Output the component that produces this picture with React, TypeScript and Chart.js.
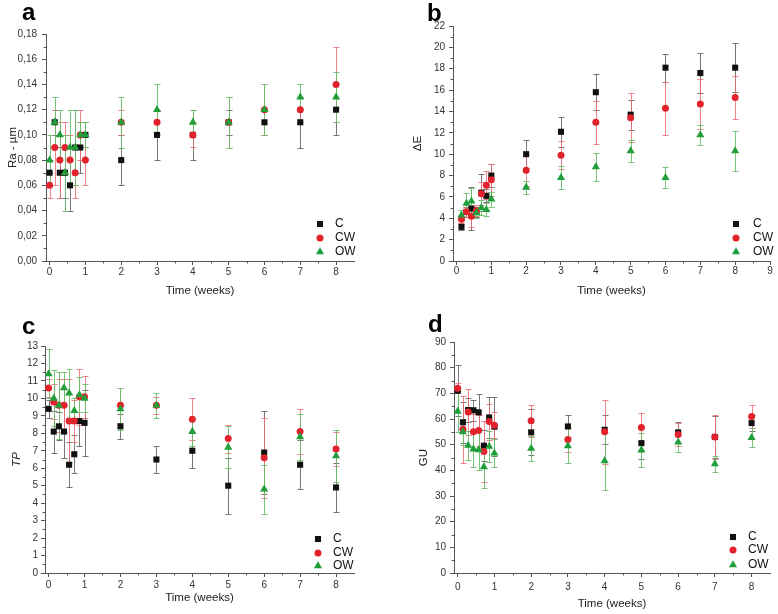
import React, { useEffect, useRef } from "react";
import { Chart, registerables } from "chart.js";
Chart.register(...registerables);

const FONT = "'Liberation Sans', Arial, Helvetica, sans-serif";

// ---- series styling ----
const seriesNames = ["C", "CW", "OW"];
const seriesColors = ["#111111", "#e2232e", "#1f9e3a"];
const errorColors = ["rgba(95,95,95,0.85)", "rgba(236,110,118,0.85)", "rgba(105,190,105,0.9)"];
const pointStyles = ["rect", "circle", "triangle"];
const pointSizes = [4.3, 3.5, 4.7];

// ---- x values (weeks) ----
const timeWeeks = [0, 0.143, 0.286, 0.429, 0.571, 0.714, 0.857, 1, 2, 3, 4, 5, 6, 7, 8];
const timeWeeksB = [0.143, 0.286, 0.429, 0.571, 0.714, 0.857, 1, 2, 3, 4, 5, 6, 7, 8];

// ---- panel a: Ra ----
const raC = [0.07, 0.11, 0.07, 0.07, 0.06, 0.09, 0.09, 0.10, 0.08, 0.10, 0.10, 0.11, 0.11, 0.11, 0.12];
const raCErr = [0.01, 0.01, 0.02, 0.02, 0.02, 0.03, 0.02, 0.01, 0.02, 0.02, 0.02, 0.01, 0.01, 0.02, 0.02];
const raCW = [0.06, 0.09, 0.08, 0.09, 0.08, 0.07, 0.10, 0.08, 0.11, 0.11, 0.10, 0.11, 0.12, 0.12, 0.14];
const raCWErr = [0.01, 0.03, 0.03, 0.02, 0.02, 0.02, 0.02, 0.02, 0.01, 0.01, 0.01, 0.02, 0.02, 0.01, 0.03];
const raOW = [0.08, 0.11, 0.10, 0.07, 0.09, 0.09, 0.10, 0.10, 0.11, 0.12, 0.11, 0.11, 0.12, 0.13, 0.13];
const raOWErr = [0.02, 0.02, 0.02, 0.03, 0.03, 0.03, 0.01, 0.01, 0.02, 0.02, 0.01, 0.02, 0.02, 0.01, 0.02];

// ---- panel b: ΔE ----
const deC = [3.2, 4.6, 4.9, 4.6, 6.4, 6.1, 8.0, 10.0, 12.1, 15.8, 13.7, 18.1, 17.6, 18.1];
const deCErr = [0.3, 0.5, 2.0, 0.5, 1.7, 0.6, 1.1, 1.3, 1.4, 1.7, 1.4, 1.3, 1.9, 2.3];
const deCW = [3.9, 4.6, 4.2, 4.7, 6.3, 7.1, 7.6, 8.5, 9.9, 13.0, 13.4, 14.3, 14.7, 15.3];
const deCWErr = [0.3, 0.5, 1.0, 0.5, 1.1, 1.3, 1.5, 1.5, 1.3, 2.0, 2.3, 2.5, 2.3, 2.0];
const deOW = [4.3, 5.4, 5.6, 4.5, 5.0, 4.8, 5.8, 6.9, 7.8, 8.8, 10.3, 7.8, 11.8, 10.3];
const deOWErr = [0.5, 1.0, 1.2, 0.5, 0.7, 0.6, 0.7, 0.6, 1.1, 1.3, 1.0, 1.0, 0.9, 1.9];

// ---- panel c: TP ----
const tpC = [9.4, 8.1, 8.4, 8.1, 6.2, 6.8, 8.7, 8.6, 8.4, 6.5, 7.0, 5.0, 6.9, 6.2, 4.9];
const tpCErr = [0.5, 1.2, 0.8, 1.5, 1.3, 1.1, 1.4, 1.9, 0.7, 0.8, 1.0, 1.6, 2.4, 1.4, 1.4];
const tpCW = [10.6, 9.8, 9.6, 9.6, 8.7, 8.7, 10.1, 10.1, 9.6, 9.6, 8.8, 7.7, 6.6, 8.1, 7.1];
const tpCWErr = [0.5, 1.0, 1.5, 1.5, 2.4, 1.2, 1.6, 1.2, 1.0, 0.5, 1.2, 0.8, 2.3, 1.3, 1.0];
const tpOW = [11.4, 10.0, 9.6, 10.6, 10.3, 9.3, 10.2, 10.0, 9.4, 9.6, 8.1, 7.2, 4.8, 7.8, 6.7];
const tpOWErr = [1.4, 1.6, 1.9, 0.9, 1.4, 0.7, 1.0, 0.8, 1.2, 0.7, 0.8, 1.2, 1.4, 1.3, 1.5];

// ---- panel d: GU ----
const guC = [71.0, 58.7, 63.5, 63.4, 62.6, 49.6, 60.6, 57.0, 54.8, 57.1, 55.8, 50.6, 54.8, 53.0, 58.4];
const guCErr = [10, 8, 4.5, 4, 7, 6, 8, 11.5, 9, 4.3, 5.6, 6, 4, 8, 3];
const guCW = [72, 56, 62.7, 55, 55.5, 47.3, 59, 57.6, 59.3, 52, 55, 56.7, 54, 53, 61];
const guCWErr = [2, 13, 9, 7, 6, 12, 7, 5, 6.3, 5, 12.4, 5.7, 4.5, 8.4, 4.4];
const guOW = [63, 55, 49.7, 48.3, 48, 41.3, 49.3, 46.7, 48.5, 49.5, 43.7, 47.9, 51, 42.5, 52.7];
const guOWErr = [8, 5, 5.5, 7, 8, 8, 6, 5.5, 5, 6.8, 11.3, 6.6, 4, 3, 3.8];

// ---- ticks ----
const xTicks8 = [0, 1, 2, 3, 4, 5, 6, 7, 8];
const xTicks9 = [0, 1, 2, 3, 4, 5, 6, 7, 8, 9];
const yTicksRa = [0, 0.02, 0.04, 0.06, 0.08, 0.1, 0.12, 0.14, 0.16, 0.18];
const yLabelsRa = ["0,00", "0,02", "0,04", "0,06", "0,08", "0,10", "0,12", "0,14", "0,16", "0,18"];
const yTicksDE = [0, 2, 4, 6, 8, 10, 12, 14, 16, 18, 20, 22];
const yTicksTP = [0, 1, 2, 3, 4, 5, 6, 7, 8, 9, 10, 11, 12, 13];
const yTicksGU = [0, 10, 20, 30, 40, 50, 60, 70, 80, 90];

const mids = (arr: number[]) => arr.slice(1).map((v, i) => (v + arr[i]) / 2);

function drawMarker(ctx: CanvasRenderingContext2D, style: string, x: number, y: number, r: number, color: string) {
  ctx.fillStyle = color;
  ctx.beginPath();
  if (style === "rect") {
    const s = Math.SQRT1_2 * r;
    ctx.rect(x - s, y - s, 2 * s, 2 * s);
  } else if (style === "circle") {
    ctx.arc(x, y, r, 0, Math.PI * 2);
  } else {
    const c = Math.cos(Math.PI / 6) * r;
    ctx.moveTo(x, y - r);
    ctx.lineTo(x + c, y + r / 2);
    ctx.lineTo(x - c, y + r / 2);
    ctx.closePath();
  }
  ctx.fill();
}

const errorBarPlugin = {
  id: "errorBars",
  beforeDatasetsDraw(chart: any) {
    const { ctx } = chart;
    const xs = chart.scales.x;
    const ys = chart.scales.y;
    ctx.save();
    chart.data.datasets.forEach((ds: any) => {
      ctx.strokeStyle = ds.errorColor;
      ctx.lineWidth = 1;
      ds.data.forEach((pt: any, j: number) => {
        const e = ds.errors[j];
        const x = Math.round(xs.getPixelForValue(pt.x)) + 0.5;
        const y1 = Math.round(ys.getPixelForValue(pt.y - e)) + 0.5;
        const y2 = Math.round(ys.getPixelForValue(pt.y + e)) + 0.5;
        ctx.beginPath();
        ctx.moveTo(x, y1);
        ctx.lineTo(x, y2);
        ctx.moveTo(x - 3, y1);
        ctx.lineTo(x + 3, y1);
        ctx.moveTo(x - 3, y2);
        ctx.lineTo(x + 3, y2);
        ctx.stroke();
      });
    });
    ctx.restore();
  },
};

const decorPlugin = {
  id: "panelDecor",
  afterDraw(chart: any, _args: any, opts: any) {
    const { ctx, chartArea } = chart;
    const xs = chart.scales.x;
    const ys = chart.scales.y;
    ctx.save();
    // minor ticks
    ctx.strokeStyle = "#555";
    ctx.lineWidth = 1;
    ctx.beginPath();
    (opts.xMinor || []).forEach((v: number) => {
      const x = Math.round(xs.getPixelForValue(v)) + 0.5;
      ctx.moveTo(x, chartArea.bottom);
      ctx.lineTo(x, chartArea.bottom + 2.5);
    });
    (opts.yMinor || []).forEach((v: number) => {
      const y = Math.round(ys.getPixelForValue(v)) + 0.5;
      ctx.moveTo(chartArea.left, y);
      ctx.lineTo(chartArea.left - 2.5, y);
    });
    ctx.stroke();
    // legend
    ctx.font = `12px ${FONT}`;
    ctx.textBaseline = "middle";
    ctx.textAlign = "left";
    chart.data.datasets.forEach((ds: any, i: number) => {
      const y = chartArea.bottom + opts.rows[i];
      drawMarker(ctx, ds.pointStyle, chartArea.right + opts.mx, y, ds.pointRadius, ds.backgroundColor);
      ctx.fillStyle = "#111";
      ctx.fillText(ds.label, chartArea.right + opts.tx, y);
    });
    ctx.restore();
  },
};

type PanelCfg = {
  left: number; top: number; w: number; h: number;
  pad: { left: number; right: number; top: number; bottom: number };
  yWidth: number; xHeight: number;
  time: number[]; values: number[][]; errors: number[][];
  xMax: number; xTicks: number[];
  yMin: number; yMax: number; yTicks: number[]; yLabels: string[];
  yTitle: string; yItalic?: boolean;
  xTickPad: number; yTickPad: number;
  legend: { mx: number; tx: number; rows: number[] };
};

const panels: PanelCfg[] = [
  {
    left: 0, top: 0, w: 389, h: 300,
    pad: { left: 2, right: 35, top: 34, bottom: 0 }, yWidth: 44, xHeight: 39,
    time: timeWeeks, values: [raC, raCW, raOW], errors: [raCErr, raCWErr, raOWErr],
    xMax: 8.5, xTicks: xTicks8, yMin: 0, yMax: 0.18, yTicks: yTicksRa, yLabels: yLabelsRa,
    yTitle: "Ra - µm", xTickPad: 1, yTickPad: 5,
    legend: { mx: -34, tx: -19, rows: [-37, -23, -9] },
  },
  {
    left: 389, top: 0, w: 389, h: 300,
    pad: { left: 18, right: 8, top: 26, bottom: 0 }, yWidth: 46, xHeight: 39,
    time: timeWeeksB, values: [deC, deCW, deOW], errors: [deCErr, deCWErr, deOWErr],
    xMax: 9, xTicks: xTicks9, yMin: 0, yMax: 22, yTicks: yTicksDE, yLabels: yTicksDE.map(String),
    yTitle: "ΔE", xTickPad: 0, yTickPad: 4,
    legend: { mx: -34, tx: -17, rows: [-37, -23, -9] },
  },
  {
    left: 0, top: 300, w: 389, h: 314,
    pad: { left: 6, right: 35, top: 46, bottom: 7 }, yWidth: 39, xHeight: 34,
    time: timeWeeks, values: [tpC, tpCW, tpOW], errors: [tpCErr, tpCWErr, tpOWErr],
    xMax: 8.5, xTicks: xTicks8, yMin: 0, yMax: 13, yTicks: yTicksTP, yLabels: yTicksTP.map(String),
    yTitle: "TP", yItalic: true, xTickPad: 2, yTickPad: 3,
    legend: { mx: -36, tx: -21, rows: [-34, -20, -7] },
  },
  {
    left: 389, top: 300, w: 389, h: 314,
    pad: { left: 24, right: 8, top: 42, bottom: 1 }, yWidth: 41, xHeight: 40,
    time: timeWeeks, values: [guC, guCW, guOW], errors: [guCErr, guCWErr, guOWErr],
    xMax: 8.5, xTicks: xTicks8, yMin: 0, yMax: 90, yTicks: yTicksGU, yLabels: yTicksGU.map(String),
    yTitle: "GU", xTickPad: 4, yTickPad: 4,
    legend: { mx: -37, tx: -22, rows: [-36, -23, -8] },
  },
];

function buildConfig(cfg: PanelCfg): any {
  const datasets = [0, 1, 2].map((i) => ({
    label: seriesNames[i],
    data: cfg.time.map((t, j) => ({ x: t, y: cfg.values[i][j] })),
    errors: cfg.errors[i],
    errorColor: errorColors[i],
    pointStyle: pointStyles[i],
    pointRadius: pointSizes[i],
    pointHoverRadius: pointSizes[i],
    backgroundColor: seriesColors[i],
    borderColor: seriesColors[i],
    pointBorderWidth: 0,
    borderWidth: 0,
    showLine: false,
    order: 3 - i,
  }));
  const axisColor = "#555";
  return {
    type: "scatter",
    data: { datasets },
    plugins: [errorBarPlugin, decorPlugin],
    options: {
      animation: false,
      responsive: false,
      devicePixelRatio: 1,
      events: [],
      layout: { padding: cfg.pad },
      plugins: {
        legend: { display: false },
        tooltip: { enabled: false },
        panelDecor: { xMinor: mids(cfg.xTicks.concat([cfg.xTicks[cfg.xTicks.length - 1] + 1])).filter((v) => v < cfg.xMax), yMinor: mids(cfg.yTicks), ...cfg.legend },
      },
      scales: {
        x: {
          type: "linear",
          position: "bottom",
          min: -0.1,
          max: cfg.xMax,
          afterBuildTicks: (s: any) => { s.ticks = cfg.xTicks.map((v) => ({ value: v })); },
          afterFit: (s: any) => { s.height = cfg.xHeight; },
          ticks: { autoSkip: false, maxRotation: 0, padding: cfg.xTickPad, color: "#333", font: { size: 10, family: FONT }, callback: (v: any) => String(v) },
          grid: { drawOnChartArea: false, tickLength: 4, color: axisColor, tickColor: axisColor },
          border: { display: true, color: axisColor, width: 1 },
          title: { display: true, text: "Time (weeks)", color: "#222", font: { size: 11.5, family: FONT }, padding: { top: 0, bottom: 2 } },
        },
        y: {
          type: "linear",
          position: "left",
          min: cfg.yMin,
          max: cfg.yMax,
          afterBuildTicks: (s: any) => { s.ticks = cfg.yTicks.map((v) => ({ value: v })); },
          afterFit: (s: any) => { s.width = cfg.yWidth; },
          ticks: { autoSkip: false, padding: cfg.yTickPad, color: "#333", font: { size: 10, family: FONT }, callback: (_v: any, i: number) => cfg.yLabels[i] },
          grid: { drawOnChartArea: false, tickLength: 4, color: axisColor, tickColor: axisColor },
          border: { display: true, color: axisColor, width: 1 },
          title: { display: true, text: cfg.yTitle, color: "#222", font: { size: 11.5, family: FONT, style: cfg.yItalic ? "italic" : "normal" }, padding: { top: 4, bottom: 4 } },
        },
      },
    },
  };
}

function Panel({ cfg }: { cfg: PanelCfg }) {
  const ref = useRef<HTMLCanvasElement>(null);
  useEffect(() => {
    const chart = new Chart(ref.current as HTMLCanvasElement, buildConfig(cfg));
    return () => chart.destroy();
  }, [cfg]);
  return (
    <canvas
      ref={ref}
      width={cfg.w}
      height={cfg.h}
      style={{ position: "absolute", left: cfg.left, top: cfg.top, width: cfg.w, height: cfg.h }}
    />
  );
}

const panelLetters = [
  { text: "a", left: 22, top: 0 },
  { text: "b", left: 427, top: 1 },
  { text: "c", left: 22, top: 314 },
  { text: "d", left: 428, top: 312 },
];

export default function App() {
  return (
    <div style={{ position: "absolute", left: 0, top: 0, width: 778, height: 614, background: "#fff", overflow: "hidden" }}>
      {panels.map((p, i) => (
        <Panel key={i} cfg={p} />
      ))}
      {panelLetters.map((l) => (
        <div
          key={l.text}
          style={{ position: "absolute", left: l.left, top: l.top, font: `bold 24px ${FONT}`, lineHeight: "24px", color: "#000" }}
        >
          {l.text}
        </div>
      ))}
    </div>
  );
}
